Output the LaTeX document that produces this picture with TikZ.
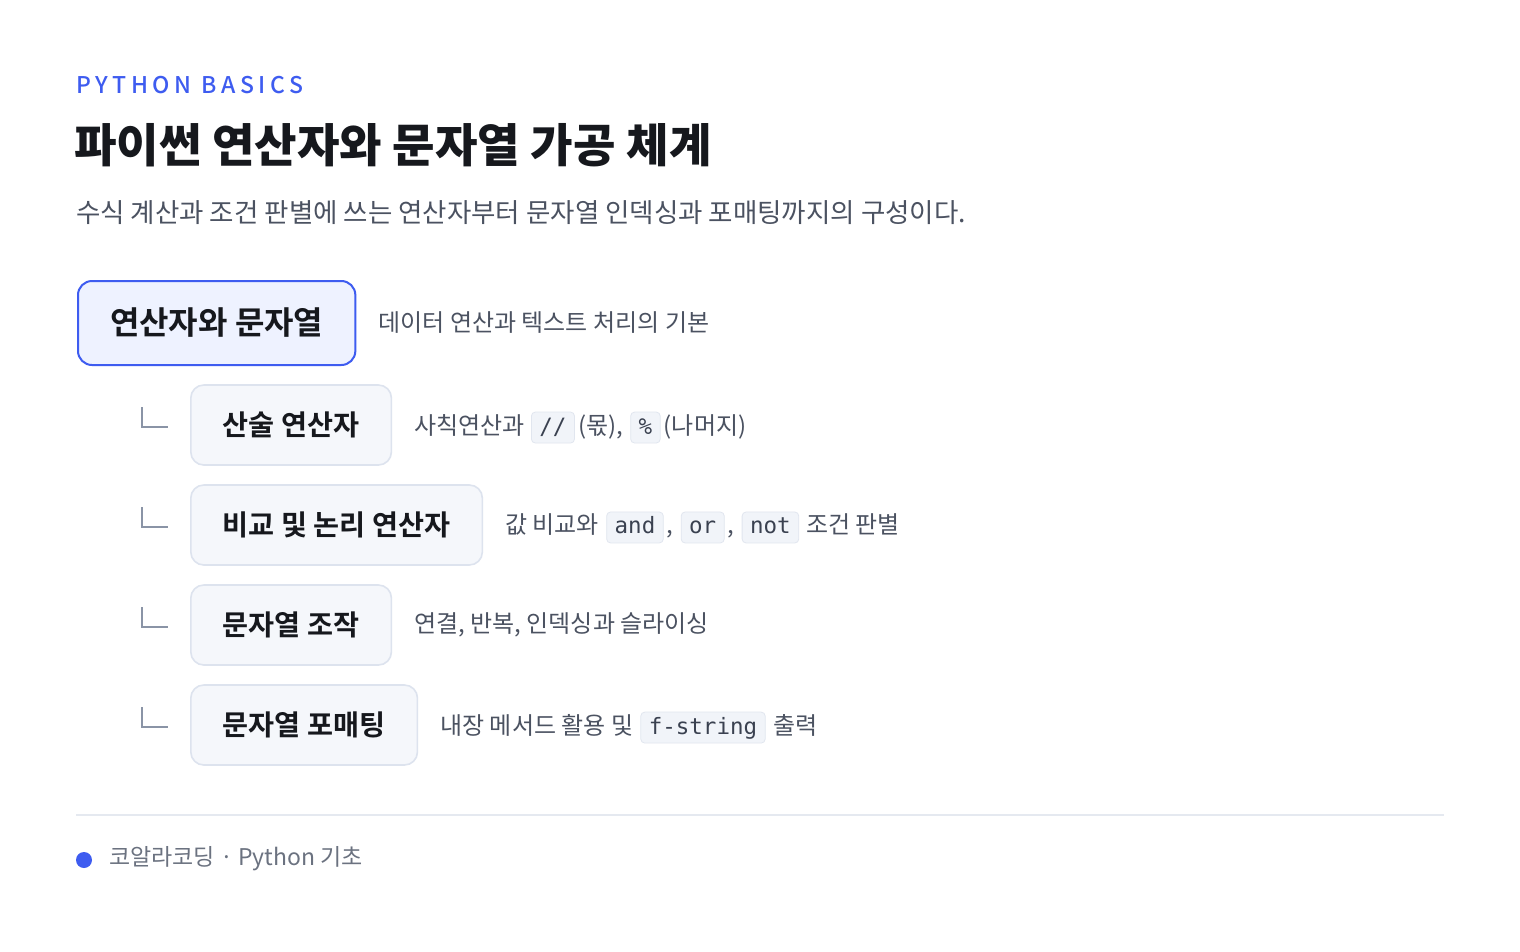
\documentclass[tikz,border=0pt]{standalone}
\usepackage{fontspec}
\setmainfont{Noto Sans CJK KR}[BoldFont={Noto Sans CJK KR Bold}]
\newfontfamily\codefont{DejaVu Sans Mono}
\newfontfamily\kickerfont{Noto Sans CJK KR Medium}[LetterSpace=20]
\newfontfamily\headfont{Noto Sans CJK KR Black}
\usetikzlibrary{positioning}

\definecolor{accent}{HTML}{3E5CF0}
\definecolor{ink}{HTML}{16181D}
\definecolor{muted}{HTML}{4B5261}
\definecolor{faint}{HTML}{6B7280}
\definecolor{rootfill}{HTML}{EEF2FF}
\definecolor{itemfill}{HTML}{F5F7FB}
\definecolor{itemline}{HTML}{DDE3EE}
\definecolor{chipfill}{HTML}{F1F4F9}
\definecolor{chipline}{HTML}{E1E6EF}
\definecolor{chiptext}{HTML}{3A4150}
\definecolor{branchgray}{HTML}{8A94A6}
\definecolor{rulegray}{HTML}{E5E9F0}

\begin{document}
\begin{tikzpicture}[x=1pt,y=-1pt,
  every node/.style={inner sep=0pt},
  rootbox/.style={draw=accent,line width=2pt,fill=rootfill,rounded corners=14pt,
    minimum height=84pt,inner xsep=32pt,text=ink,font=\fontsize{32}{36}\bfseries},
  itembox/.style={draw=itemline,line width=1.6pt,fill=itemfill,rounded corners=13pt,
    minimum height=80pt,inner xsep=32pt,text=ink,font=\fontsize{28.3}{32}\bfseries},
  desc/.style={text=muted,font=\fontsize{24}{28}\selectfont},
  chip/.style={draw=chipline,line width=0.8pt,fill=chipfill,rounded corners=4pt,
    inner xsep=8pt,inner ysep=5pt,text height=17pt,text depth=4pt,
    text=chiptext,font=\codefont\fontsize{22.5}{26}\selectfont},
  branch/.style={draw=branchgray,line width=1.6pt}
]

% page
\fill[white] (0,0) rectangle (1520,951);
\useasboundingbox (0,0) rectangle (1520,951);

% heading
\node[anchor=west,text=accent,font=\kickerfont\fontsize{23}{26}\selectfont] (kicker) at (76,85) {PYTHON BASICS};
\node[anchor=west,text=ink,font=\headfont\fontsize{46.2}{52}\selectfont] (title) at (74,145) {파이썬 연산자와 문자열 가공 체계};
\node[anchor=west,text=muted,font=\fontsize{26.5}{30}\selectfont] (subtitle) at (76,213) {수식 계산과 조건 판별에 쓰는 연산자부터 문자열 인덱싱과 포매팅까지의 구성이다.};

% root
\node[rootbox,anchor=north west] (root) at (77,280) {연산자와 문자열};
\node[desc,right=22pt of root] (rootdesc) {데이터 연산과 텍스트 처리의 기본};

% items
\node[itembox,anchor=west] (arith) at (190,425) {산술 연산자};
\node[itembox,anchor=west] (logic) at (190,525) {비교 및 논리 연산자};
\node[itembox,anchor=west] (strop) at (190,625) {문자열 조작};
\node[itembox,anchor=west] (fmt) at (190,725) {문자열 포매팅};

\foreach \n in {arith,logic,strop,fmt}
  \draw[branch] ([xshift=-48pt,yshift=18pt]\n.west) |- ([xshift=-22pt,yshift=-2pt]\n.west);

% arithmetic
\node[desc,right=22pt of arith] (arithd1) {사칙연산과};
\node[chip,base right=6pt of arithd1] (arithc1) {//};
\node[desc,base right=3pt of arithc1] (arithd2) {(몫),};
\node[chip,base right=7pt of arithd2] (arithc2) {\%};
\node[desc,base right=3pt of arithc2] (arithd3) {(나머지)};

% comparison and logic
\node[desc,right=22pt of logic] (logicd1) {값 비교와};
\node[chip,base right=7pt of logicd1] (logicc1) {and};
\node[desc,base right=3pt of logicc1] (logicd2) {,};
\node[chip,base right=7pt of logicd2] (logicc2) {or};
\node[desc,base right=3pt of logicc2] (logicd3) {,};
\node[chip,base right=7pt of logicd3] (logicc3) {not};
\node[desc,base right=7pt of logicc3] (logicd4) {조건 판별};

% string ops
\node[desc,right=22pt of strop] (stropd1) {연결, 반복, 인덱싱과 슬라이싱};

% formatting
\node[desc,right=22pt of fmt] (fmtd1) {내장 메서드 활용 및};
\node[chip,base right=7pt of fmtd1] (fmtc1) {f-string};
\node[desc,base right=8pt of fmtc1] (fmtd2) {출력};

% footer
\draw[rulegray,line width=2pt] (76,815) -- (1444,815);
\node[circle,fill=accent,minimum size=16pt] (dot) at (84,860) {};
\node[anchor=west,text=faint,font=\fontsize{23}{26}\selectfont] (footer) at (109,859) {코알라코딩 · Python 기초};

\end{tikzpicture}
\end{document}
